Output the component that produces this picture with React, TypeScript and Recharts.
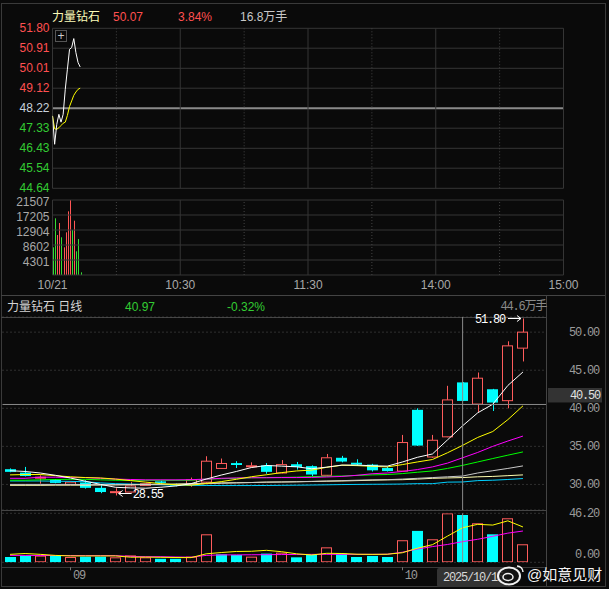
import React from 'react';
import {
  ComposedChart, Bar, Line, XAxis, YAxis, CartesianGrid, ReferenceLine, ReferenceDot,
} from 'recharts';

const BG = '#0a0a0a';
const RED = '#ff5050';
const GREEN = '#33cc33';
const NEUTRAL = '#c8d2dc';
const GRID = '#353535';
const AXIS_TEXT = '#a8a8a8';
const CANDLE_RED = '#ff5c5c';
const CANDLE_CYAN = '#00ffff';
const SANS = "'Liberation Sans', Arial, 'Noto Sans CJK SC', sans-serif";
const MONO = "'Liberation Mono', 'DejaVu Sans Mono', 'Noto Sans CJK SC', monospace";

// ---- intraday 10/21 ----
const PREV_CLOSE = 48.22;
const minuteIdx = [0, 1, 2, 3, 4, 5, 6, 7, 8, 9, 10, 11, 12, 13];
const minutePrice = [47.88, 46.61, 47.5, 47.95, 47.6, 47.95, 49.07, 49.97, 50.86, 50.94, 51.34, 50.71, 50.27, 50.07];
const minuteAvg = [47.88, 47.3, 47.28, 47.35, 47.45, 47.55, 47.6, 47.9, 48.3, 48.55, 48.8, 48.95, 49.07, 49.12];
const minuteVol = [7940, 16260, 11470, 14910, 10810, 7940, 12240, 18260, 21500, 12900, 15570, 6800, 10320, 770];
const minuteVolUp = [false, false, true, true, false, true, true, true, true, false, true, false, false, false];
const priceTicks = [44.64, 45.54, 46.43, 47.33, 48.22, 49.12, 50.01, 50.91, 51.80];
const pctTicks = [-7.4, -5.6, -3.7, -1.9, 0, 1.9, 3.7, 5.6, 7.4];
const minuteVolTicks = [4301, 8602, 12904, 17205, 21507];
const timeTicks = [0, 60, 120, 180, 240];
const timeLabels = ['10/21', '10:30', '11:30', '14:00', '15:00'];
const solidMinutes = [60, 120, 180];
const dottedMinutes = [30, 90, 150, 210];

// ---- daily ----
const dates = [
  '08/26', '08/27', '08/28', '08/29', '09/01', '09/02', '09/03', '09/04', '09/05', '09/08',
  '09/09', '09/10', '09/11', '09/12', '09/15', '09/16', '09/17', '09/18', '09/19', '09/22',
  '09/23', '09/24', '09/25', '09/26', '09/29', '09/30', '10/09', '10/10', '10/13', '10/14',
  '10/15', '10/16', '10/17', '10/20', '10/21',
];
const open = [32.0, 31.55, 30.85, 30.6, 30.0, 30.25, 29.55, 28.95, 29.0, 29.85, 30.4, 30.0, 30.0, 30.3, 32.1, 32.8, 32.4, 32.5, 31.5, 32.65, 32.4, 31.2, 33.5, 32.85, 32.6, 32.15, 31.75, 39.8, 33.6, 36.25, 43.4, 40.55, 42.5, 41.0, 47.9];
const high = [32.1, 32.3, 31.2, 30.7, 30.4, 30.55, 29.9, 29.5, 30.3, 30.2, 30.5, 30.1, 30.9, 33.7, 33.4, 33.05, 32.9, 32.8, 33.2, 32.95, 32.5, 34.0, 33.75, 33.3, 32.7, 32.3, 36.5, 40.0, 36.5, 42.95, 43.45, 44.7, 42.55, 48.8, 51.8];
const low = [31.6, 31.05, 30.1, 30.15, 29.95, 29.45, 28.85, 28.55, 28.95, 29.8, 30.1, 29.75, 29.7, 30.2, 32.05, 32.15, 32.3, 31.4, 31.45, 31.95, 31.1, 31.1, 32.9, 32.45, 31.7, 31.7, 31.7, 35.05, 33.5, 36.2, 40.95, 39.5, 39.65, 40.0, 46.15];
const close = [31.65, 31.1, 30.95, 30.2, 30.3, 29.55, 29.0, 29.05, 29.8, 30.1, 30.2, 29.85, 30.6, 33.05, 32.75, 32.55, 32.45, 31.65, 32.6, 32.3, 31.3, 33.5, 33.0, 32.6, 31.85, 31.75, 35.5, 35.1, 35.8, 41.1, 40.97, 43.95, 40.75, 48.2, 50.0];
const ma5 = [31.8, 31.7, 31.5, 31.2, 30.84, 30.42, 30.0, 29.62, 29.54, 29.5, 29.63, 29.8, 30.1, 30.7, 31.23, 31.7, 32.22, 32.49, 32.4, 32.31, 32.06, 32.27, 32.54, 32.54, 32.45, 32.4, 32.94, 33.56, 34.0, 35.85, 37.7, 39.4, 40.53, 43.0, 44.77];
const ma10 = [31.25, 31.3, 31.3, 31.15, 31.0, 30.9, 30.85, 30.7, 30.5, 30.3, 30.1, 29.95, 29.9, 30.12, 30.37, 30.67, 31.01, 31.27, 31.55, 31.77, 31.88, 32.25, 32.52, 32.47, 32.38, 32.3, 32.6, 32.95, 33.27, 34.16, 35.13, 36.17, 36.95, 38.51, 40.32];
const ma20 = [30.8, 30.8, 30.95, 30.95, 30.9, 30.9, 30.8, 30.7, 30.65, 30.6, 30.6, 30.6, 30.62, 30.7, 30.8, 30.85, 30.88, 30.88, 30.9, 30.9, 30.92, 30.98, 31.05, 31.2, 31.4, 31.5, 31.7, 31.95, 32.3, 32.8, 33.5, 34.2, 35.0, 35.7, 36.35];
const ma30 = [30.55, 30.55, 30.6, 30.65, 30.67, 30.67, 30.6, 30.55, 30.54, 30.54, 30.54, 30.54, 30.55, 30.7, 30.75, 30.8, 30.88, 30.9, 30.92, 30.95, 31.02, 31.07, 31.1, 31.18, 31.25, 31.3, 31.42, 31.6, 31.77, 32.1, 32.5, 32.95, 33.4, 33.84, 34.27];
const ma60 = [30.0, 30.0, 30.0, 30.0, 30.0, 29.98, 29.96, 29.95, 29.95, 29.96, 29.98, 30.0, 30.05, 30.1, 30.15, 30.2, 30.25, 30.3, 30.32, 30.35, 30.4, 30.45, 30.5, 30.55, 30.6, 30.62, 30.7, 30.8, 30.9, 31.0, 31.1, 31.5, 31.8, 32.1, 32.43];
const ma120 = [29.88, 29.88, 29.88, 29.9, 29.9, 29.9, 29.92, 29.95, 29.98, 30.0, 30.02, 30.05, 30.1, 30.15, 30.2, 30.22, 30.25, 30.3, 30.32, 30.35, 30.38, 30.42, 30.45, 30.5, 30.55, 30.6, 30.62, 30.7, 30.8, 30.85, 30.9, 31.0, 31.05, 31.15, 31.25];
const ma250 = [30.45, 30.45, 30.45, 30.42, 30.4, 30.35, 30.2, 30.1, 30.05, 30.0, 29.95, 29.9, 29.88, 29.86, 29.85, 29.85, 29.85, 29.86, 29.88, 29.9, 29.92, 29.95, 29.98, 30.0, 30.02, 30.03, 30.05, 30.1, 30.1, 30.3, 30.32, 30.5, 30.55, 30.65, 30.77];
const dayVol = [5.0, 6.3, 6.3, 6.3, 5.0, 5.3, 5.3, 4.7, 6.5, 4.7, 3.3, 3.3, 5.3, 26.4, 7.5, 6.9, 5.3, 8.2, 9.1, 4.7, 6.9, 14.1, 8.2, 5.0, 6.0, 5.0, 20.8, 29.6, 21.7, 46.2, 44.6, 36.8, 26.4, 41.5, 17.0];
const dayVolUp = [false, false, true, false, true, false, false, true, true, true, false, false, true, true, false, false, true, false, true, false, false, true, false, false, false, false, true, false, true, true, false, true, false, true, true];
const volMa5 = [7.5, 8.3, 7.5, 6.5, 6.0, 6.0, 6.0, 6.0, 4.8, 4.9, 4.7, 4.5, 4.4, 8.0, 9.2, 10.2, 10.4, 11.3, 10.0, 8.0, 6.9, 8.5, 8.3, 7.6, 7.5, 7.6, 9.0, 13.3, 16.6, 24.7, 32.6, 35.8, 35.1, 39.1, 33.3];
const volMa10 = [6.5, 6.5, 6.4, 6.4, 6.4, 6.3, 6.3, 6.3, 5.5, 5.3, 5.3, 5.0, 4.8, 6.5, 7.0, 7.0, 7.1, 7.2, 7.3, 7.4, 7.5, 7.5, 7.5, 7.5, 7.5, 7.6, 9.5, 12.5, 14.8, 16.8, 19.5, 21.7, 24.5, 27.5, 29.5];
const dayPriceTicks = [30, 35, 40, 45, 50];
const dayVolTicks = [0, 46.2];
const monthTicks = ['09/01', '10/09'];
const CURSOR_INDEX = 30;
const CURSOR_PRICE = 40.5;
const LOW_INDEX = 7;
const HIGH_INDEX = 34;

const intraday = minuteIdx.map((m, i) => ({
  m, price: minutePrice[i], avg: minuteAvg[i], vol: minuteVol[i], up: minuteVolUp[i],
}));

const daily = dates.map((date, i) => ({
  date, open: open[i], high: high[i], low: low[i], close: close[i],
  ma5: ma5[i], ma10: ma10[i], ma20: ma20[i], ma30: ma30[i], ma60: ma60[i], ma120: ma120[i], ma250: ma250[i],
  vol: dayVol[i], volUp: dayVolUp[i], volMa5: volMa5[i], volMa10: volMa10[i],
}));

const dayMaLines = [
  { key: 'ma250', color: '#00d0ff' },
  { key: 'ma120', color: '#ffffb0' },
  { key: 'ma60', color: '#c8c8c8' },
  { key: 'ma30', color: '#00ff00' },
  { key: 'ma20', color: '#ff00ff' },
  { key: 'ma10', color: '#ffff00' },
  { key: 'ma5', color: '#ffffff' },
];

const sideColor = (v: number, mid: number) => (v > mid + 1e-6 ? RED : v < mid - 1e-6 ? GREEN : NEUTRAL);

const PriceTick = ({ x, y, payload }: any) => (
  <text x={x} y={y} dy={4} textAnchor="end" fill={sideColor(payload.value, PREV_CLOSE)} fontSize={12} fontFamily={SANS}>
    {payload.value.toFixed(2)}
  </text>
);

const PctTick = ({ x, y, payload }: any) => (
  <text x={x} y={y} dy={4} textAnchor="start" fill={sideColor(payload.value, 0)} fontSize={12} fontFamily={SANS}>
    {Math.abs(payload.value).toFixed(1) + '%'}
  </text>
);

const VolTick = ({ x, y, payload, anchor }: any) => (
  <text x={x} y={y} dy={5.5} textAnchor={anchor} fill={AXIS_TEXT} fontSize={12} fontFamily={SANS}>
    {payload.value}
  </text>
);

const TimeTick = ({ x, y, payload }: any) => (
  <text x={x} y={y} dy={13.5} textAnchor="middle" fill={AXIS_TEXT} fontSize={12} fontFamily={SANS}>
    {timeLabels[timeTicks.indexOf(payload.value)]}
  </text>
);

const DayAxisTick = ({ x, y, payload, lift }: any) => (
  <text x={x + 53} y={y - (payload.value === 0 ? lift : 0)} dy={4} textAnchor="end" fill="#9a9a9a"
    fontSize={12} fontFamily={MONO} letterSpacing={-1.2}>
    {payload.value.toFixed(2)}
  </text>
);

const MonthTick = ({ x, y, payload }: any) => (
  <g>
    <line x1={Math.round(x) + 0.5} x2={Math.round(x) + 0.5} y1={y + 5} y2={y + 8} stroke="#777" />
    <text x={x + 2.5} y={y + 16.5} fill="#9a9a9a" fontSize={12} fontFamily={MONO} letterSpacing={-1.2}>
      {payload.value.slice(0, 2)}
    </text>
  </g>
);

const MinuteBar = (p: any) => {
  const { x, y, width, height, payload } = p;
  return <rect x={Math.round(x + width / 2)} y={y} width={1} height={height} fill={payload.up ? '#ff5555' : '#33dd33'} />;
};

const Candle = (p: any) => {
  let { x, y, width, height } = p;
  const { open: o, close: c, high: h, low: l } = p.payload;
  if (height < 0) { y += height; height = -height; }
  const k = h > l ? height / (h - l) : 0;
  const py = (v: number) => y + (h - v) * k;
  const up = c >= o;
  const cx = Math.round(x + width / 2) + 0.5;
  const left = Math.round(x) + 0.5;
  const w = Math.round(width) - 1;
  const top = py(Math.max(o, c));
  const bh = Math.max(py(Math.min(o, c)) - top, 1);
  if (up) {
    return (
      <g>
        <line x1={cx} x2={cx} y1={y} y2={top} stroke={CANDLE_RED} />
        <line x1={cx} x2={cx} y1={top + bh} y2={y + height} stroke={CANDLE_RED} />
        <rect x={left} y={top} width={w} height={bh} fill={BG} stroke={CANDLE_RED} />
      </g>
    );
  }
  return (
    <g>
      <line x1={cx} x2={cx} y1={y} y2={y + height} stroke={CANDLE_CYAN} />
      <rect x={left - 0.5} y={top} width={w + 1} height={bh} fill={CANDLE_CYAN} />
    </g>
  );
};

const VolBar = (p: any) => {
  let { x, y, width, height, payload } = p;
  if (height < 0) { y += height; height = -height; }
  const left = Math.round(x) + 0.5;
  const w = Math.round(width) - 1;
  if (payload.volUp) {
    return <rect x={left} y={y + 0.5} width={w} height={Math.max(height - 1, 1)} fill={BG} stroke={CANDLE_RED} />;
  }
  return <rect x={left - 0.5} y={y} width={w + 1} height={height} fill={CANDLE_CYAN} />;
};

const PriceTag = ({ viewBox }: any) => {
  const x = viewBox.x + viewBox.width;
  const y = viewBox.y;
  return (
    <g>
      <rect x={x + 2} y={y - 16.5} width={54} height={14.5} fill="#333" />
      <text x={x + 54} y={y - 5} textAnchor="end" fill="#e0e0e0" fontSize={12} fontFamily={MONO} letterSpacing={-1.2}>
        {CURSOR_PRICE.toFixed(2)}
      </text>
    </g>
  );
};

// extreme-price note: a long arrow pointing at the candle, then the value
const Note = ({ viewBox, text, side }: any) => {
  const cx = viewBox.x + viewBox.width / 2;
  const cy = Math.round(viewBox.y + viewBox.height / 2);
  if (side === 'right') {
    const ay = cy - 1.5;
    const a0 = cx + 3;
    const a1 = cx + 16;
    return (
      <g>
        <path d={`M${a0} ${ay}H${a1}M${a0 + 4} ${ay - 3}L${a0} ${ay}L${a0 + 4} ${ay + 3}`} stroke="#fff" fill="none" />
        <text x={a1 + 1} y={cy + 2.5} fill="#ffffff" fontSize={12} fontFamily={MONO} letterSpacing={-1.2}>{text}</text>
      </g>
    );
  }
  const ay = cy + 0.5;
  const a1 = cx - 2;
  const a0 = cx - 15;
  return (
    <g>
      <path d={`M${a0} ${ay}H${a1}M${a1 - 4} ${ay - 3}L${a1} ${ay}L${a1 - 4} ${ay + 3}`} stroke="#fff" fill="none" />
      <text x={a0 - 3} y={cy + 4.5} textAnchor="end" fill="#ffffff" fontSize={12} fontFamily={MONO} letterSpacing={-1.2}>{text}</text>
    </g>
  );
};

const abs = (left: number, top: number, extra: any = {}) => ({ position: 'absolute' as const, left, top, ...extra });
const hLine = (left: number, top: number, width: number, color = '#444') => (
  <div style={abs(left, top, { width, height: 1, background: color })} />
);
const vLine = (left: number, top: number, height: number, color = '#444') => (
  <div style={abs(left, top, { width: 1, height, background: color })} />
);
const label = (left: number, top: number, text: string, color: string, extra: any = {}) => (
  <div style={abs(left, top, { color, fontSize: 12, lineHeight: '14px', whiteSpace: 'nowrap', fontFamily: SANS, ...extra })}>{text}</div>
);

export default function App() {
  return (
    <div style={abs(0, 0, { width: 609, height: 589, background: BG, overflow: 'hidden' })}>
      {/* frame */}
      <div style={abs(1, 3, { width: 603, height: 582, border: '1px solid #3a3a3a' })} />
      {hLine(1, 295, 604)}
      {hLine(1, 317, 545)}
      {vLine(546, 295, 291)}
      {hLine(1, 510, 545)}
      {hLine(1, 567, 545, '#3a3a3a')}

      {/* intraday header */}
      {label(52, 10, '力量钻石', '#fbfbb8')}
      {label(113, 10, '50.07', RED)}
      {label(178, 10, '3.84%', RED)}
      {label(240, 10, '16.8万手', '#c8c8c8')}

      {/* intraday price */}
      <div style={abs(0, 20)}>
        <ComposedChart width={609} height={180} data={intraday} margin={{ top: 8.3, right: 0, bottom: 11.7, left: 0 }}>
          <XAxis type="number" dataKey="m" domain={[0, 240]} allowDataOverflow hide />
          <YAxis yAxisId="p" orientation="left" width={52.5} domain={[44.64, 51.8]} ticks={priceTicks} interval={0}
            axisLine={false} tickLine={false} tickSize={0} tickMargin={3} tick={<PriceTick />} allowDataOverflow />
          <YAxis yAxisId="pct" orientation="right" width={45.5} domain={[-7.4, 7.4]} ticks={pctTicks} interval={0}
            axisLine={false} tickLine={false} tickSize={0} tickMargin={4} tick={<PctTick />} />
          {priceTicks.map((t) => (
            <ReferenceLine key={'h' + t} yAxisId="p" y={t} stroke={t === PREV_CLOSE ? '#8a8a8a' : GRID}
              strokeWidth={t === PREV_CLOSE ? 2 : 1} />
          ))}
          {dottedMinutes.map((m) => (
            <ReferenceLine key={'d' + m} yAxisId="p" x={m} stroke="#444" strokeDasharray="1 2" />
          ))}
          {[0, ...solidMinutes, 240].map((m) => (
            <ReferenceLine key={'s' + m} yAxisId="p" x={m} stroke={GRID} />
          ))}
          <Line yAxisId="p" dataKey="avg" stroke="#ffff00" strokeWidth={1} dot={false} isAnimationActive={false} />
          <Line yAxisId="p" dataKey="price" stroke="#ffffff" strokeWidth={1} dot={false} isAnimationActive={false} />
        </ComposedChart>
      </div>
      <div style={abs(55, 30, { width: 10, height: 10, border: '1px solid #555', color: '#ccc', fontSize: 12, lineHeight: '10px', textAlign: 'center', fontFamily: SANS })}>+</div>

      {/* intraday volume */}
      <div style={abs(0, 190)}>
        <ComposedChart width={609} height={106} data={intraday} margin={{ top: 10, right: 0, bottom: 0, left: 0 }}>
          <XAxis type="number" dataKey="m" domain={[0, 240]} ticks={timeTicks} interval={0} height={21}
            axisLine={false} tickLine={false} tickSize={0} tickMargin={0} tick={<TimeTick />} allowDataOverflow />
          <YAxis yAxisId="v" orientation="left" width={52.5} domain={[0, 21507]} ticks={minuteVolTicks} interval={0}
            axisLine={false} tickLine={false} tickSize={0} tickMargin={3} tick={<VolTick anchor="end" />} allowDataOverflow />
          <YAxis yAxisId="vr" orientation="right" width={45.5} domain={[0, 21507]} ticks={minuteVolTicks} interval={0}
            axisLine={false} tickLine={false} tickSize={0} tickMargin={4} tick={<VolTick anchor="start" />} />
          {[0, ...minuteVolTicks].map((t) => (
            <ReferenceLine key={'vh' + t} yAxisId="v" y={t} stroke={GRID} />
          ))}
          {dottedMinutes.map((m) => (
            <ReferenceLine key={'vd' + m} yAxisId="v" x={m} stroke="#444" strokeDasharray="1 2" />
          ))}
          {[0, ...solidMinutes, 240].map((m) => (
            <ReferenceLine key={'vs' + m} yAxisId="v" x={m} stroke={GRID} />
          ))}
          <Bar yAxisId="v" dataKey="vol" barSize={1} shape={<MinuteBar />} isAnimationActive={false} />
        </ComposedChart>
      </div>

      {/* daily header */}
      {label(7, 300, '力量钻石 日线', '#d4d4d4')}
      {label(125, 300, '40.97', GREEN)}
      {label(227, 300, '-0.32%', GREEN)}
      {label(480, 300, '44.6万手', '#8a8a8a', { width: 66, textAlign: 'right', fontFamily: MONO, letterSpacing: -1.2 })}

      {/* daily candles */}
      <div style={abs(0, 296)}>
        <ComposedChart width={609} height={214} data={daily} margin={{ top: 21, right: 0, bottom: 0, left: 2.5 }}>
          <XAxis dataKey="date" type="category" hide padding={{ left: 0, right: 15.5 }} />
          <YAxis orientation="right" width={63} domain={[26.64, 51.99]} ticks={dayPriceTicks} interval={0}
            axisLine={false} tickLine={false} tickSize={0} tickMargin={0} tick={<DayAxisTick lift={0} />} allowDataOverflow />
          <CartesianGrid vertical={false} stroke="#555" strokeDasharray="1 3" />
          <Bar dataKey={(d: any) => [d.low, d.high]} barSize={11} shape={<Candle />} isAnimationActive={false} />
          {dayMaLines.map((l) => (
            <Line key={l.key} dataKey={l.key} stroke={l.color} strokeWidth={1} dot={false} isAnimationActive={false} />
          ))}
          <ReferenceLine x={dates[CURSOR_INDEX]} stroke="#8a8a8a" />
          <ReferenceLine y={CURSOR_PRICE} stroke="#8a8a8a" label={<PriceTag />} />
          <ReferenceDot x={dates[LOW_INDEX]} y={low[LOW_INDEX]} r={0} stroke="none" fill="none"
            label={<Note text={low[LOW_INDEX].toFixed(2)} side="right" />} />
          <ReferenceDot x={dates[HIGH_INDEX]} y={high[HIGH_INDEX]} r={0} stroke="none" fill="none"
            label={<Note text={high[HIGH_INDEX].toFixed(2)} side="left" />} />
        </ComposedChart>
      </div>

      {/* daily volume */}
      <div style={abs(0, 500)}>
        <ComposedChart width={609} height={89} data={daily} margin={{ top: 13.3, right: 0, bottom: 6.7, left: 2.5 }}>
          <XAxis dataKey="date" type="category" height={20} padding={{ left: 0, right: 15.5 }} ticks={monthTicks}
            interval={0} axisLine={false} tickLine={false} tickSize={0} tickMargin={0} tick={<MonthTick />} />
          <YAxis orientation="right" width={63} domain={[0, 46.2]} ticks={dayVolTicks} interval={0}
            axisLine={false} tickLine={false} tickSize={0} tickMargin={0} tick={<DayAxisTick lift={8} />} allowDataOverflow />
          <CartesianGrid vertical={false} stroke="#555" strokeDasharray="1 3" />
          <Bar dataKey="vol" barSize={11} shape={<VolBar />} isAnimationActive={false} />
          <Line dataKey="volMa10" stroke="#ff00ff" strokeWidth={1} dot={false} isAnimationActive={false} />
          <Line dataKey="volMa5" stroke="#ffff00" strokeWidth={1} dot={false} isAnimationActive={false} />
          <ReferenceLine x={dates[CURSOR_INDEX]} stroke="#8a8a8a" />
        </ComposedChart>
      </div>

      {/* cursor date box and watermark */}
      <div style={abs(437, 568, { width: 70, height: 19, background: '#333', borderRadius: 2 })} />
      {label(443, 571, '2025/10/15', '#d8d8d8', { fontFamily: MONO, letterSpacing: -1.2 })}
      <svg style={abs(496, 563)} width={30} height={24}>
        <ellipse cx={13} cy={13} rx={11} ry={8.5} fill="rgba(20,20,20,0.85)" stroke="#f2f2f2" strokeWidth={2} />
        <ellipse cx={12} cy={14} rx={5} ry={3.5} fill="none" stroke="#f2f2f2" strokeWidth={1.5} />
        <path d="M21 3 A6 6 0 0 1 27 9" fill="none" stroke="#f2f2f2" strokeWidth={1.5} />
      </svg>
      {label(527, 566, '@如意见财', '#f4f4f4', { fontSize: 15, lineHeight: '18px', textShadow: '0 0 2px #000' })}
    </div>
  );
}
